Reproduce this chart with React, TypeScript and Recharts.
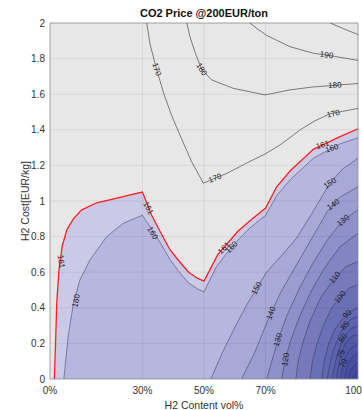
import {
  Area,
  CartesianGrid,
  ComposedChart,
  Line,
  ReferenceArea,
  ReferenceLine,
  Scatter,
  XAxis,
  YAxis,
} from "recharts";

type Pt = [number, number];

// axis ticks
const xTicks = [0, 30, 50, 70, 100];
const yTicks = [0, 0.2, 0.4, 0.6, 0.8, 1, 1.2, 1.4, 1.6, 1.8, 2];

// unfilled contours in the grey region (x = H2 vol%, y = EUR/kg)
const c200: Pt[] = [[91, 2.0], [95, 1.97], [100, 1.935]];
const c190: Pt[] = [[64.9, 2.0], [67.5, 1.965], [70.4, 1.93], [77.9, 1.867], [85.5, 1.83], [89.8, 1.82], [100, 1.79]];
const c180: Pt[] = [[44.4, 2.0], [45.5, 1.92], [47.2, 1.83], [49.2, 1.74], [52.5, 1.68], [59.5, 1.633], [69.8, 1.596], [77.9, 1.624], [85, 1.64], [92.5, 1.65], [100, 1.66]];
const c170: Pt[] = [[31.4, 2.0], [32.5, 1.88], [34.6, 1.74], [37, 1.6], [39.5, 1.48], [42.2, 1.37], [46, 1.22], [49.8, 1.1], [53.6, 1.128], [57.4, 1.155], [63.5, 1.21], [69.8, 1.264], [74.7, 1.315], [79, 1.37], [81.2, 1.4], [86, 1.45], [90.9, 1.49], [100, 1.52]];

// filled contours (everything below the line is below that level)
const c161: Pt[] = [[1.4, 0], [1.8, 0.2], [2.2, 0.43], [2.9, 0.61], [4, 0.75], [5.5, 0.84], [7.6, 0.9], [10.3, 0.95], [15.2, 0.99], [30, 1.05], [33, 0.92], [36, 0.82], [39, 0.725], [42, 0.66], [45, 0.6], [48, 0.565], [50, 0.55], [54.5, 0.7], [57.5, 0.76], [61, 0.83], [65, 0.89], [70, 0.96], [73.6, 1.08], [78, 1.17], [85.5, 1.29], [94, 1.36], [100, 1.405]];
const c160: Pt[] = [[4.5, 0], [5.9, 0.24], [7.6, 0.425], [9.7, 0.556], [13, 0.67], [18.4, 0.8], [23.8, 0.875], [30, 0.92], [32.5, 0.855], [36, 0.76], [39, 0.67], [42, 0.6], [45, 0.54], [48, 0.505], [50, 0.49], [54, 0.63], [57.5, 0.71], [61, 0.78], [65, 0.85], [70, 0.92], [73.6, 1.03], [78, 1.12], [85.5, 1.24], [94, 1.32], [100, 1.355]];
const c150: Pt[] = [[52.2, 0], [56, 0.15], [60, 0.29], [64, 0.42], [67.5, 0.52], [70.3, 0.6], [75, 0.69], [80, 0.79], [85, 0.93], [90.9, 1.1], [95, 1.18], [100, 1.24]];
const c140: Pt[] = [[62.2, 0], [66.5, 0.15], [70, 0.3], [72, 0.38], [75, 0.49], [80, 0.64], [85, 0.79], [90, 0.94], [94, 1.02], [100, 1.08]];
const c130: Pt[] = [[70.4, 0], [72, 0.1], [74, 0.22], [77, 0.36], [81, 0.51], [85, 0.64], [90, 0.78], [95, 0.89], [100, 0.95]];
const c120: Pt[] = [[75.2, 0], [76.3, 0.1], [78, 0.21], [81, 0.35], [85, 0.5], [89, 0.62], [94, 0.74], [100, 0.82]];
const c110: Pt[] = [[79.8, 0], [80.6, 0.1], [82, 0.2], [84.5, 0.33], [88, 0.46], [92.5, 0.57], [96, 0.63], [100, 0.66]];
const c100: Pt[] = [[84.4, 0], [85.2, 0.1], [86.7, 0.2], [89, 0.31], [91.5, 0.4], [94.2, 0.46], [97, 0.51], [100, 0.53]];
const c90: Pt[] = [[88.2, 0], [89, 0.1], [90.5, 0.2], [92.5, 0.28], [95, 0.34], [97.5, 0.38], [100, 0.4]];
const c85: Pt[] = [[90, 0], [90.8, 0.08], [92, 0.16], [94, 0.25], [96.1, 0.31], [98, 0.34], [100, 0.35]];
const c80: Pt[] = [[91.6, 0], [92.3, 0.07], [93.5, 0.15], [95.1, 0.23], [97.5, 0.28], [100, 0.3]];
const c75: Pt[] = [[93, 0], [93.6, 0.07], [94.5, 0.14], [96, 0.2], [98, 0.24], [100, 0.25]];
const c70: Pt[] = [[94.3, 0], [94.9, 0.06], [95.8, 0.12], [97.5, 0.17], [100, 0.2]];
const c65: Pt[] = [[95.6, 0], [96.3, 0.06], [97.5, 0.11], [100, 0.15]];
const c60: Pt[] = [[96.8, 0], [97.6, 0.05], [100, 0.1]];
const c55: Pt[] = [[98, 0], [100, 0.05]];

const bandLevels = [161, 160, 150, 140, 130, 120, 110, 100, 90, 85, 80, 75, 70, 65, 60, 55];
const bandLines = [c161, c160, c150, c140, c130, c120, c110, c100, c90, c85, c80, c75, c70, c65, c60, c55];
const bandColors = [
  "#cacae8", "#b6b6de", "#a8a9d6", "#9b9cd0", "#8e90c9", "#8285c2", "#767abb", "#6a70b5",
  "#6168b1", "#5c63ae", "#565eab", "#5159a9", "#4b54a6", "#464fa4", "#414ba2", "#3c46a0",
];

// inline contour labels
const labelText = ["170", "180", "190", "180", "170", "170", "161", "160", "161", "160", "161", "160", "161", "160", "150", "150", "140", "140", "130", "130", "120", "110", "100", "90", "85", "80", "75", "70"];
const labelX = [34.6, 49.2, 89.8, 92.5, 92, 53.6, 3.6, 8.5, 31.9, 33.3, 56.5, 59, 88.5, 91.5, 67.1, 90.9, 71.8, 92, 74, 95.2, 76.5, 92.5, 94.2, 96.5, 95.8, 95.1, 94.5, 95.3];
const labelY = [1.74, 1.74, 1.82, 1.65, 1.49, 1.128, 0.66, 0.44, 0.96, 0.82, 0.735, 0.74, 1.315, 1.296, 0.51, 1.1, 0.37, 0.98, 0.22, 0.89, 0.11, 0.57, 0.46, 0.364, 0.3, 0.23, 0.14, 0.087];
const labelAngle = [72, 58, 8, -2, -14, -22, 82, -78, 62, 60, -45, -45, -18, -18, -62, -35, -68, -35, -75, -40, -80, -50, -50, -45, -50, -55, -60, -65];

const toPts = (pairs: Pt[]) => pairs.map(([x, y]) => ({ x, y }));
const labelData = labelText.map((text, i) => ({
  x: labelX[i],
  y: labelY[i],
  text,
  angle: labelAngle[i],
}));

const font = "'Liberation Sans', Arial, sans-serif";

function ContourLabel(props: any) {
  const { cx, cy, payload } = props;
  if (cx == null || cy == null) return null;
  return (
    <text
      x={cx}
      y={cy}
      transform={`rotate(${payload.angle} ${cx} ${cy})`}
      textAnchor="middle"
      dominantBaseline="central"
      fontSize={8}
      fontFamily={font}
      fill="#1e1e1e"
    >
      {payload.text}
    </text>
  );
}

export default function App() {
  return (
    <div style={{ position: "absolute", left: 0, top: 0, width: 362, height: 410, fontFamily: font }}>
      <div
        style={{
          position: "absolute",
          left: 50,
          top: 7,
          width: 308,
          textAlign: "center",
          fontSize: 11,
          fontWeight: "bold",
          color: "#111",
        }}
      >
        CO2 Price @200EUR/ton
      </div>
      <ComposedChart width={362} height={410} margin={{ top: 23, right: 4, bottom: 0, left: 0 }}>
        <CartesianGrid fill="#e7e7e7" stroke="none" />
        <XAxis
          type="number"
          dataKey="x"
          domain={[0, 100]}
          ticks={xTicks}
          interval={0}
          allowDataOverflow
          height={31}
          tickLine={false}
          axisLine={false}
          tick={{ fontSize: 10, fill: "#333", fontFamily: font }}
          tickFormatter={(v: number) => `${v}%`}
          label={{ value: "H2 Content vol%", position: "insideBottom", offset: 1, fontSize: 10.5, fill: "#333", fontFamily: font }}
        />
        <YAxis
          type="number"
          domain={[0, 2]}
          ticks={yTicks}
          interval={0}
          allowDataOverflow
          width={50}
          tickLine={false}
          axisLine={false}
          tickSize={3}
          tickMargin={2}
          tick={{ fontSize: 10, fill: "#333", fontFamily: font }}
          label={{ value: "H2 Cost[EUR/kg]", angle: -90, position: "center", dx: 0, fontSize: 10.5, fill: "#333", fontFamily: font }}
        />
        {bandLines.map((line, i) => (
          <Area
            key={bandLevels[i]}
            data={toPts(line)}
            dataKey="y"
            type="linear"
            baseValue={0}
            fill={bandColors[i]}
            fillOpacity={1}
            stroke={bandLevels[i] === 161 ? "#ff1f1f" : "#2e2e48"}
            strokeWidth={bandLevels[i] === 161 ? 1.3 : 0.6}
            strokeOpacity={bandLevels[i] === 161 ? 1 : 0.8}
            dot={false}
            activeDot={false}
            legendType="none"
            isAnimationActive={false}
          />
        ))}
        {[c170, c180, c190, c200].map((line, i) => (
          <Line
            key={`u${i}`}
            data={toPts(line)}
            dataKey="y"
            type="linear"
            stroke="#4a4a4a"
            strokeWidth={0.7}
            dot={false}
            activeDot={false}
            legendType="none"
            isAnimationActive={false}
          />
        ))}
        {xTicks.slice(1, -1).map((t) => (
          <ReferenceLine key={`gx${t}`} x={t} stroke="#262626" strokeOpacity={0.13} strokeWidth={0.6} />
        ))}
        {yTicks.slice(1, -1).map((t) => (
          <ReferenceLine key={`gy${t}`} y={t} stroke="#262626" strokeOpacity={0.13} strokeWidth={0.6} />
        ))}
        <ReferenceArea x1={0} x2={100} y1={0} y2={2} fill="none" stroke="#8a8a8a" strokeWidth={0.8} />
        <Scatter data={labelData} dataKey="y" shape={ContourLabel} legendType="none" isAnimationActive={false} />
      </ComposedChart>
    </div>
  );
}
